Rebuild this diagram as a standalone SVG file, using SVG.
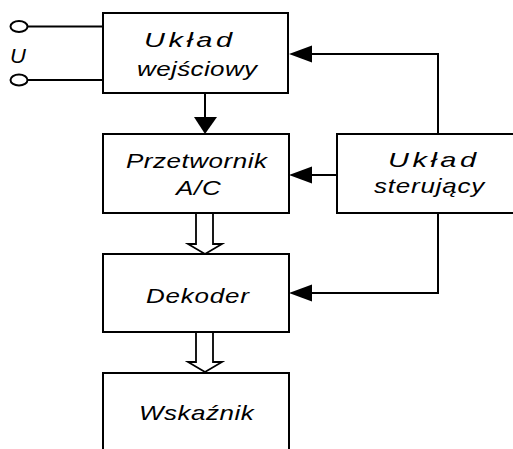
<svg xmlns="http://www.w3.org/2000/svg" width="513" height="449" viewBox="0 0 513 449">
  <style>
    .box { fill: #fff; stroke: #000; stroke-width: 2; }
    .wire { fill: none; stroke: #000; stroke-width: 2; }
    .head { fill: #000; stroke: none; }
    .bus { fill: #fff; stroke: #000; stroke-width: 1.8; stroke-linejoin: miter; }
    .lbl { font-family: "Liberation Sans", Arial, sans-serif; font-style: italic; font-size: 20px; fill: #000; }
  </style>
  <rect width="513" height="449" fill="#fff"/>

  <!-- input terminals -->
  <g id="input-terminals">
    <ellipse class="wire" cx="19" cy="26.5" rx="8.5" ry="5.5"/>
    <ellipse class="wire" cx="19" cy="80" rx="8.5" ry="5.5"/>
    <text class="lbl" transform="translate(10,63) scale(1.1,1)">U</text>
  </g>

  <g id="uklad-wejsciowy">
    <rect class="box" x="103" y="13" width="185" height="80"/>
    <text class="lbl" transform="translate(144,47) scale(1.45,1)" letter-spacing="2.4">Układ</text>
    <text class="lbl" transform="translate(137,76) scale(1.3,1)" letter-spacing="0.3">wejściowy</text>
  </g>

  <g id="przetwornik">
    <rect class="box" x="103" y="134" width="186" height="79"/>
    <text class="lbl" transform="translate(126,168) scale(1.3,1)" letter-spacing="0.4">Przetwornik</text>
    <text class="lbl" transform="translate(176,195) scale(1.3,1)" letter-spacing="0.6">A/C</text>
  </g>

  <g id="dekoder">
    <rect class="box" x="103" y="254" width="186" height="78"/>
    <text class="lbl" transform="translate(146,303) scale(1.3,1)" letter-spacing="0.6">Dekoder</text>
  </g>

  <g id="wskaznik">
    <rect class="box" x="103" y="373" width="186" height="100"/>
    <text class="lbl" transform="translate(139,420) scale(1.3,1)" letter-spacing="0.4">Wskaźnik</text>
  </g>

  <g id="uklad-sterujacy">
    <rect class="box" x="337" y="134" width="200" height="79"/>
    <text class="lbl" transform="translate(388,167) scale(1.45,1)" letter-spacing="2.4">Układ</text>
    <text class="lbl" transform="translate(374,193) scale(1.3,1)" letter-spacing="0.6">sterujący</text>
  </g>

  <g id="connectors">
    <!-- input leads -->
    <path class="wire" d="M27.5,26.5 H103 M27.5,80 H103"/>
    <!-- input stage to converter -->
    <path class="wire" d="M205,93 V118"/>
    <polygon class="head" points="194,117 217,117 205,134"/>
    <!-- control lines -->
    <path class="wire" d="M438,134 V54 H311"/>
    <polygon class="head" points="289,54 312,45.5 312,62.5"/>
    <path class="wire" d="M337,175 H311"/>
    <polygon class="head" points="289,175 312,166.5 312,183.5"/>
    <path class="wire" d="M438,213 V293 H311"/>
    <polygon class="head" points="289,293 312,284.5 312,301.5"/>
    <!-- data buses -->
    <polygon class="bus" points="196,213 196,244 188,244 205,254 222,244 213,244 213,213"/>
    <polygon class="bus" points="196,332 196,362 188,362 205,372 222,362 213,362 213,332"/>
  </g>
</svg>
